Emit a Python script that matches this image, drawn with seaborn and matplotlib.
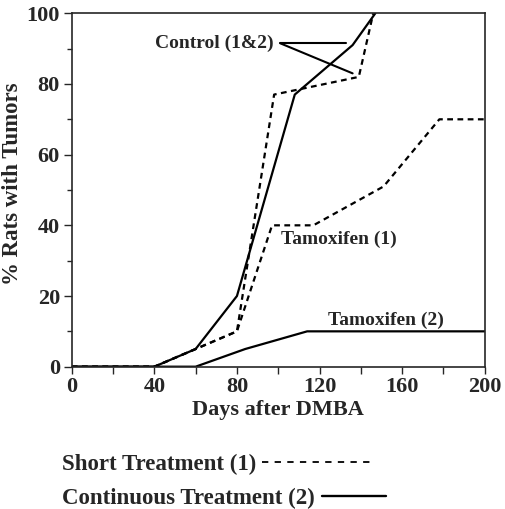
import numpy as np
import pandas as pd
import matplotlib
matplotlib.use("Agg")
import matplotlib.pyplot as plt
from matplotlib.lines import Line2D
from matplotlib.ticker import MultipleLocator
import seaborn as sns

# (days after DMBA vs % rats with tumours)
control_short_days = [0, 40, 60, 80, 98, 139, 146]
control_short_pct = [0, 0, 5, 10, 77, 82, 100]

control_cont_days = [0, 40, 60, 80, 108, 136, 147]
control_cont_pct = [0, 0, 5, 20, 77, 91, 100]

tam_short_days = [0, 40, 60, 80, 97, 117, 151, 178, 200]
tam_short_pct = [0, 0, 5, 10, 40, 40, 51, 70, 70]

tam_cont_days = [0, 60, 84, 114, 200]
tam_cont_pct = [0, 0, 5, 10, 10]

x_ticks = [0, 40, 80, 120, 160, 200]
y_ticks = [0, 20, 40, 60, 80, 100]

sns.set_style("ticks")
plt.rcParams['font.family'] = ['Liberation Serif', 'DejaVu Serif']
plt.rcParams['font.weight'] = 'bold'

fig = plt.figure(figsize=(5.05, 5.09), dpi=100)
ax = fig.add_axes([0.142, 0.2796, 0.818, 0.6943])

lw = 1.6
dash = (2.6, 2.0)

sns.lineplot(x=control_cont_days, y=control_cont_pct, ax=ax, color='black',
             linewidth=lw, estimator=None)
sns.lineplot(x=tam_cont_days, y=tam_cont_pct, ax=ax, color='black',
             linewidth=lw, estimator=None)
sns.lineplot(x=control_short_days, y=control_short_pct, ax=ax, color='black',
             linewidth=lw, linestyle=(0, dash), estimator=None)
sns.lineplot(x=tam_short_days, y=tam_short_pct, ax=ax, color='black',
             linewidth=lw, linestyle=(0, dash), estimator=None)

ax.set_xlim(0, 200)
ax.set_ylim(0, 100)
ax.set_xticks(x_ticks)
ax.set_yticks(y_ticks)
ax.xaxis.set_minor_locator(MultipleLocator(20))
ax.yaxis.set_minor_locator(MultipleLocator(10))
ax.tick_params(which='major', length=5, width=1, labelsize=16, pad=2.5)
ax.tick_params(axis='y', which='major', length=6)
ax.tick_params(axis='x', which='minor', length=5, width=1)
ax.tick_params(axis='y', which='minor', length=3.5, width=1)
for s in ax.spines.values():
    s.set_linewidth(1.2)
    s.set_visible(True)

ax.set_xlabel('Days after DMBA', fontsize=16, fontweight='bold')
ax.set_ylabel('% Rats with Tumors', fontsize=16.5, fontweight='bold')
ax.xaxis.set_label_coords(0.5, -0.095)
ax.yaxis.set_label_coords(-0.118, 0.518)

# labels on the curves
ax.text(69, 91.5, 'Control (1&2)', ha='center', va='center', fontsize=14,
        fontweight='bold')
ax.plot([101, 133], [91.5, 91.5], color='black', linewidth=1.5)
ax.plot([101, 136], [91.5, 83], color='black', linewidth=1.5)
ax.text(129.5, 36, 'Tamoxifen (1)', ha='center', va='center', fontsize=14,
        fontweight='bold')
ax.text(152, 13, 'Tamoxifen (2)', ha='center', va='center', fontsize=14,
        fontweight='bold')

# legend under the plot: label first, then line sample
legend_font = {'family': 'Liberation Serif', 'weight': 'bold', 'size': 16.5}
h_short = Line2D([], [], color='black', linewidth=1.3, linestyle=(0, (3.5, 3.5)))
h_cont = Line2D([], [], color='black', linewidth=1.7)
leg1 = ax.legend([h_short], ['Short Treatment (1)'], markerfirst=False,
                 frameon=False, handlelength=4.75, handletextpad=0.25,
                 prop=legend_font,
                 loc='center left', bbox_to_anchor=(-0.023, -0.278),
                 borderaxespad=0, borderpad=0)
ax.add_artist(leg1)
ax.legend([h_cont], ['Continuous Treatment (2)'], markerfirst=False,
          frameon=False, handlelength=2.8, handletextpad=0.3,
          prop=legend_font,
          loc='center left', bbox_to_anchor=(-0.023, -0.372),
          borderaxespad=0, borderpad=0)

fig.savefig('out.png', dpi=100)
plt.close(fig)
